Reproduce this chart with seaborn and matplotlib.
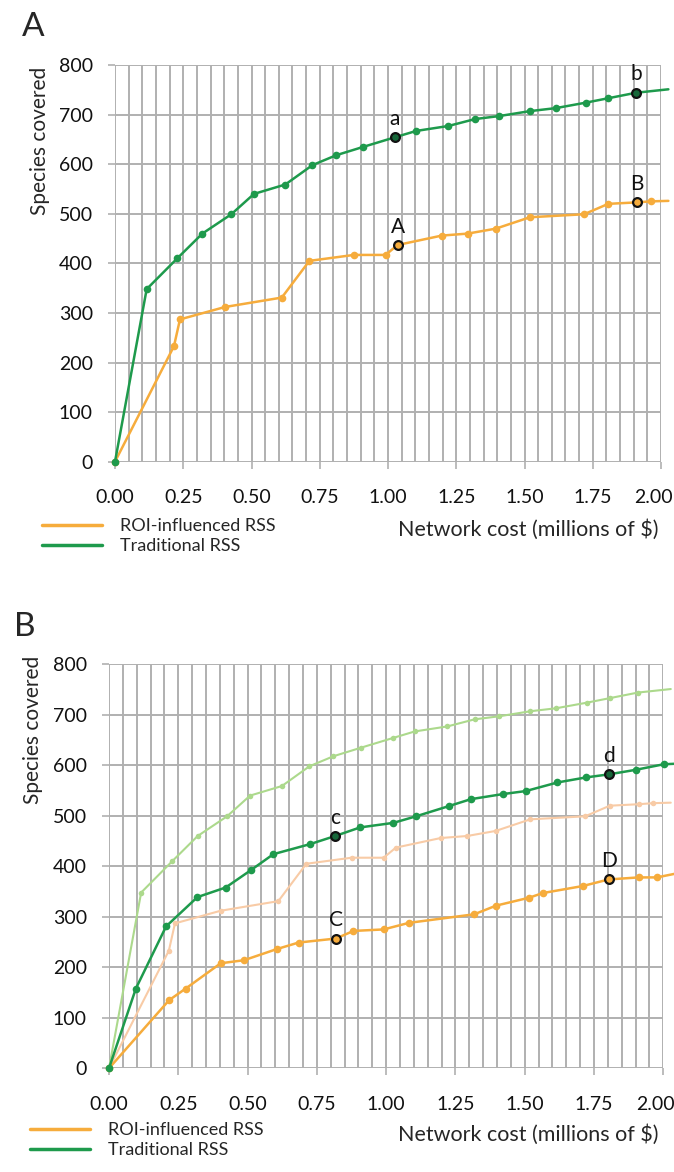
import numpy as np
import pandas as pd
import seaborn as sns
import matplotlib.pyplot as plt
import matplotlib.transforms as mtransforms
from matplotlib.lines import Line2D
from matplotlib.ticker import MultipleLocator

# ---- data ----
# Panel A: traditional RSS (green) and ROI-influenced RSS (orange)
trad_cost = [0.0, 0.116, 0.228, 0.320, 0.426, 0.509, 0.624, 0.723, 0.810, 0.910, 1.024,
             1.103, 1.221, 1.319, 1.407, 1.520, 1.614, 1.724, 1.807, 1.908, 2.027]
trad_species = [0, 348, 410, 460, 499, 540, 559, 598, 618, 635, 654,
                667, 677, 691, 697, 707, 713, 724, 733, 744, 751]
roi_cost = [0.0, 0.216, 0.238, 0.403, 0.611, 0.712, 0.875, 0.991, 1.035, 1.197,
            1.292, 1.395, 1.520, 1.718, 1.807, 1.913, 1.962, 2.027]
roi_species = [0, 233, 287, 312, 331, 405, 417, 417, 437, 456,
               460, 470, 493, 499, 520, 523, 525, 526]

# Panel B: new runs (faded A curves are drawn behind)
trad_b_cost = [0.0, 0.097, 0.206, 0.319, 0.421, 0.511, 0.593, 0.726, 0.816, 0.906, 1.026,
               1.108, 1.225, 1.306, 1.421, 1.504, 1.618, 1.721, 1.803, 1.900, 2.001, 2.04]
trad_b_species = [0, 158, 281, 339, 358, 392, 424, 444, 460, 477, 486,
                  499, 519, 533, 543, 549, 566, 576, 582, 591, 602, 603]
roi_b_cost = [0.0, 0.217, 0.277, 0.403, 0.487, 0.605, 0.684, 0.819, 0.882, 0.991, 1.082,
              1.318, 1.396, 1.517, 1.565, 1.710, 1.803, 1.911, 1.977, 2.04]
roi_b_species = [0, 135, 158, 208, 214, 236, 249, 257, 272, 275, 288,
                 305, 322, 338, 347, 361, 374, 378, 378, 385]

# highlighted points: (label, series, index)
marks_a = [("a", "trad", 10), ("b", "trad", 19), ("A", "roi", 8), ("B", "roi", 15)]
marks_b = [("c", "trad", 8), ("d", "trad", 18), ("C", "roi", 7), ("D", "roi", 16)]

x_ticks = [0.0, 0.25, 0.5, 0.75, 1.0, 1.25, 1.5, 1.75, 2.0]
y_ticks = [0, 100, 200, 300, 400, 500, 600, 700, 800]

GREEN = "#1e9a4c"
DARK_GREEN = "#17683a"
ORANGE = "#f6ac3c"
LIGHT_GREEN = "#acd98c"
LIGHT_ORANGE = "#f8cba6"
GRID = "#b0b0b0"

sns.set_style("white")
plt.rcParams["font.family"] = ["Lato", "DejaVu Sans"]

W, H = 674, 1172
fig = plt.figure(figsize=(W / 100, H / 100), dpi=100)


def fx(x):
    return x / W


def fy(y):
    return 1 - y / H


def line(ax, xs, ys, color, lw=1.8, ms=5.5, z=3):
    n = len(xs)
    sns.lineplot(x=xs, y=ys, ax=ax, color=color, lw=lw, sort=False, estimator=None,
                 marker="o", markersize=ms, markeredgewidth=0, markevery=list(range(n - 1)),
                 clip_on=False, zorder=z)


def style_axes(ax):
    ax.set_xlim(0, 2.0)
    ax.set_ylim(0, 800)
    ax.set_xticks(x_ticks)
    ax.set_xticklabels([f"{v:.2f}" for v in x_ticks])
    ax.xaxis.set_minor_locator(MultipleLocator(0.05))
    ax.set_yticks(y_ticks)
    ax.grid(True, which="major", color=GRID, lw=1.4)
    ax.grid(True, which="minor", axis="x", color=GRID, lw=1.4)
    for s in ax.spines.values():
        s.set_visible(False)
    ax.tick_params(axis="both", which="major", length=5, width=1.2, color=GRID,
                   labelsize=14, labelcolor="#111111", left=True, bottom=True)
    ax.tick_params(axis="x", which="minor", length=0)
    ax.tick_params(axis="x", pad=15)
    ax.tick_params(axis="y", pad=11)
    # keep the last x label inside the figure, as in the original
    last = ax.get_xticklabels()[-1]
    last.set_transform(last.get_transform() +
                       mtransforms.ScaledTranslation(-8 / 100, 0, fig.dpi_scale_trans))
    ax.set_xlabel("")
    ax.set_ylabel("")


def highlight(ax, marks, series):
    for lab, key, i in marks:
        xs, ys, col = series[key]
        ax.scatter([xs[i]], [ys[i]], s=40, facecolor=col, edgecolor="#111111",
                   linewidth=1.6, zorder=6, clip_on=False)
        ax.annotate(lab, (xs[i], ys[i]), xytext=(0, 6), textcoords="offset points",
                    ha="center", va="bottom", fontsize=15, color="#111111", zorder=7)


# ---- panel A ----
axA = fig.add_axes([fx(115), fy(461.7), fx(661 - 115), (461.7 - 65) / H])
line(axA, roi_cost, roi_species, ORANGE)
line(axA, trad_cost, trad_species, GREEN)
style_axes(axA)
highlight(axA, marks_a, {"trad": (trad_cost, trad_species, DARK_GREEN),
                         "roi": (roi_cost, roi_species, ORANGE)})

# ---- panel B ----
axB = fig.add_axes([fx(109), fy(1068.3), fx(663.3 - 109), (1068.3 - 664.3) / H])
line(axB, trad_cost, trad_species, LIGHT_GREEN, lw=1.5, ms=4, z=2)
line(axB, roi_cost, roi_species, LIGHT_ORANGE, lw=1.5, ms=4, z=2)
line(axB, roi_b_cost, roi_b_species, ORANGE)
line(axB, trad_b_cost, trad_b_species, GREEN)
style_axes(axB)
highlight(axB, marks_b, {"trad": (trad_b_cost, trad_b_species, DARK_GREEN),
                         "roi": (roi_b_cost, roi_b_species, ORANGE)})

# ---- labels, legends ----
handles = [Line2D([], [], color=ORANGE, lw=2.5), Line2D([], [], color=GREEN, lw=2.5)]
labels = ["ROI-influenced RSS", "Traditional RSS"]

for ax, letter, lx, ly, ylab_x, ylab_y, xl_y, leg_x, leg_y in [
    (axA, "A", 33, 27, 40, 141, 530, 42, 518),
    (axB, "B", 25, 627, 33, 730, 1135, 30, 1122),
]:
    fig.text(fx(lx), fy(ly), letter, fontsize=24, ha="center", va="center")
    fig.text(fx(ylab_x), fy(ylab_y), "Species covered", rotation=90, fontsize=15,
             ha="center", va="center")
    fig.text(fx(658), fy(xl_y), "Network cost (millions of $)", fontsize=15.5,
             ha="right", va="center")
    ax.legend(handles, labels, loc="upper left", bbox_to_anchor=(fx(leg_x), fy(leg_y)),
              bbox_transform=fig.transFigure, frameon=False, fontsize=13,
              handlelength=3.3, handletextpad=1.0, labelspacing=0.22,
              borderpad=0, borderaxespad=0)

fig.savefig("out.png", dpi=100)
